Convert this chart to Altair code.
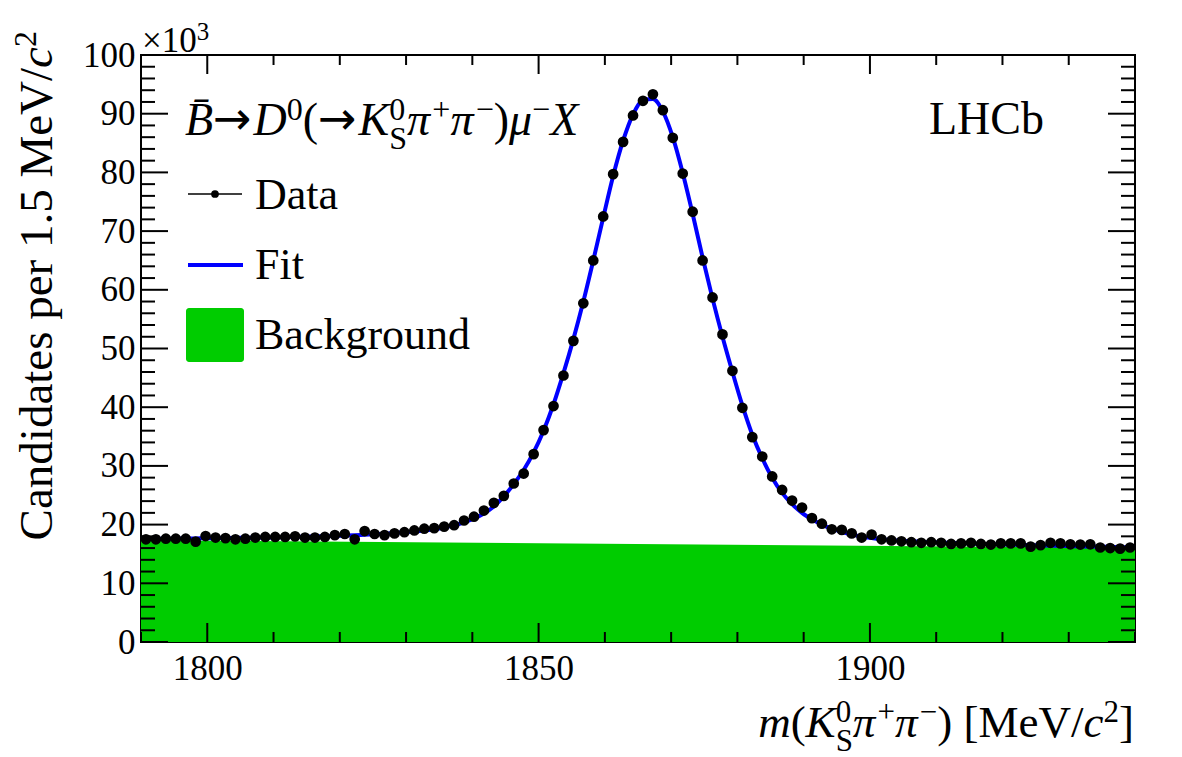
import altair as alt
import pandas as pd

# ---------------- data (values in units of 10^3 candidates) ----------------
bin_lo, bin_w, n_bins = 1790.0, 1.5, 100
mass = [bin_lo + bin_w * (i + 0.5) for i in range(n_bins)]

counts = [17.5, 17.5, 17.6, 17.6, 17.6, 17.1, 18.05, 17.8, 17.7, 17.5,
          17.6, 17.8, 17.9, 17.9, 17.9, 18.0, 17.8, 17.8, 17.9, 18.2,
          18.4, 17.5, 18.9, 18.4, 18.2, 18.5, 18.7, 19.0, 19.3, 19.4,
          19.65, 19.9, 20.7, 21.35, 22.4, 23.7, 24.9, 27.0, 28.7, 32.0,
          36.1, 40.2, 45.4, 51.3, 57.7, 65.0, 72.5, 79.7, 85.2, 89.7,
          92.2, 93.3, 90.6, 85.9, 79.8, 73.3, 65.0, 58.7, 52.4, 46.2,
          39.9, 34.9, 31.6, 28.2, 25.9, 24.1, 22.9, 21.1, 20.15, 19.2,
          19.1, 18.5, 17.8, 18.3, 17.5, 17.3, 17.15, 17.0, 16.9, 17.0,
          16.9, 16.7, 16.8, 16.9, 16.7, 16.6, 16.8, 16.8, 16.8, 16.25,
          16.5, 16.9, 16.8, 16.65, 16.6, 16.65, 16.1, 16.0, 15.9, 16.1]

fit_vals = [17.55, 17.57, 17.59, 17.61, 17.63, 17.65, 17.67, 17.69, 17.71, 17.73,
            17.75, 17.77, 17.8, 17.83, 17.86, 17.9, 17.94, 17.98, 18.03, 18.08,
            18.14, 18.2, 18.28, 18.36, 18.45, 18.56, 18.68, 18.83, 19.0, 19.2,
            19.5, 19.9, 20.4, 21.05, 21.9, 23.1, 24.8, 26.9, 29.3, 32.3,
            36.0, 40.5, 45.8, 51.6, 58.0, 65.0, 72.3, 79.4, 85.4, 89.9,
            92.3, 92.5, 90.4, 86.0, 79.9, 72.9, 65.5, 58.5, 52.0, 46.0,
            40.3, 35.3, 31.3, 28.0, 25.4, 23.5, 22.0, 20.9, 20.0, 19.3,
            18.75, 18.3, 17.95, 17.7, 17.5, 17.35, 17.25, 17.15, 17.07, 17.0,
            16.94, 16.88, 16.83, 16.78, 16.73, 16.68, 16.63, 16.59, 16.55, 16.51,
            16.47, 16.43, 16.39, 16.35, 16.31, 16.27, 16.23, 16.19, 16.15, 16.11]
fit_edge_x = [1790.0, 1940.0]
fit_edge_y = [17.54, 16.09]

bkg_x = [1790.0, 1940.0]
bkg_y = [17.35, 16.05]

x_labels = [1800, 1850, 1900]
y_labels = [0, 10, 20, 30, 40, 50, 60, 70, 80, 90, 100]
x_minor = [v for v in range(1790, 1941, 10) if v not in x_labels]
y_minor = [v for v in range(2, 100, 2) if v % 10 != 0]

# ---------------- layout ----------------
W, H = 994, 587
OX, OY = 141, 55
FONT = "Liberation Serif, Times New Roman, serif"
ARROW_FONT = "DejaVu Sans ExtraLight, DejaVu Sans"
GREEN = "#00cc00"
BLUE = "#0000ff"

xs = alt.Scale(domain=[1790, 1940], nice=False, zero=False)
ys = alt.Scale(domain=[0, 100], nice=False, zero=True)
XAX = alt.Axis(values=x_labels, format="d", ticks=False, domain=False, grid=False,
               labelFont=FONT, labelFontSize=35, labelColor="black", labelPadding=9,
               labelFlush=False, title=None)
YAX = alt.Axis(values=y_labels, ticks=False, domain=False, grid=False,
               labelFont=FONT, labelFontSize=35, labelColor="black", labelPadding=6,
               title=None)

df_data = pd.DataFrame({"m": mass, "n": counts})
df_fit = pd.DataFrame({"m": [fit_edge_x[0]] + mass + [fit_edge_x[1]],
                       "n": [fit_edge_y[0]] + fit_vals + [fit_edge_y[1]]})
df_bkg = pd.DataFrame({"m": bkg_x, "n": bkg_y})

bkg = alt.Chart(df_bkg).mark_area(color=GREEN, opacity=1).encode(
    x=alt.X("m:Q", scale=xs, axis=XAX), y=alt.Y("n:Q", scale=ys, axis=YAX))
fit = alt.Chart(df_fit).mark_line(color=BLUE, strokeWidth=4, interpolate="monotone").encode(
    x=alt.X("m:Q", scale=xs, axis=XAX), y=alt.Y("n:Q", scale=ys, axis=YAX))
pts = alt.Chart(df_data).mark_circle(color="black", opacity=1, size=115).encode(
    x=alt.X("m:Q", scale=xs, axis=XAX), y=alt.Y("n:Q", scale=ys, axis=YAX))


def yticks(vals, length, side):
    df = pd.DataFrame({"v": vals})
    x1, x2 = (0, length) if side == "left" else (W - length, W)
    return alt.Chart(df).mark_rule(color="black", strokeWidth=2).encode(
        y=alt.Y("v:Q", scale=ys, axis=YAX), x=alt.value(x1), x2=alt.value(x2))


def xticks(vals, length, side):
    df = pd.DataFrame({"v": vals})
    y1, y2 = (H - length, H) if side == "bottom" else (0, length)
    return alt.Chart(df).mark_rule(color="black", strokeWidth=2).encode(
        x=alt.X("v:Q", scale=xs, axis=XAX), y=alt.value(y1), y2=alt.value(y2))


ticks = [yticks(y_labels, 27, "left"), yticks(y_minor, 14, "left"),
         yticks(y_labels, 27, "right"), yticks(y_minor, 14, "right"),
         xticks(x_labels, 19, "bottom"), xticks(x_minor, 10, "bottom"),
         xticks(x_labels, 19, "top"), xticks(x_minor, 10, "top")]

one = pd.DataFrame({"a": [0]})


def txt(s, x, y, size, italic=False, align="left", angle=0, baseline="alphabetic", font=FONT):
    kw = dict(text=s, font=font, fontSize=size, align=align, baseline=baseline, color="black")
    if italic:
        kw["fontStyle"] = "italic"
    if angle:
        kw["angle"] = angle
    return alt.Chart(one).mark_text(**kw).encode(x=alt.value(x - OX), y=alt.value(y - OY))


REG = {" ": .25, "(": .333, ")": .333, "[": .333, "]": .333, "/": .278, "M": .889,
       "e": .444, "V": .722, "+": .564, "\u2212": .564, "S": .556,
       "0": .5, "1": .5, "2": .5, "3": .5, "\u00d7": .564}
IT = {"m": .722, "K": .667, "c": .444, "B": .611, "B\u0304": .611, "D": .722,
      "X": .611, "\u03c0": .55, "\u03bc": .5}


def wid(s, italic, fs):
    tab = IT if italic else REG
    if s in tab:
        return tab[s] * fs
    return sum(tab.get(c, .5) for c in s) * fs


def seq(items, x, base, fs, ss):
    layers = []
    for it in items:
        kind = it[0]
        if kind == "n":
            _, s, ital = it
            layers.append(txt(s, x, base, fs, ital))
            x += wid(s, ital, fs)
        elif kind == "gap":
            x += it[1] * fs
        elif kind == "arrow":
            layers.append(txt("\u2192", x, base - 1, fs, font=ARROW_FONT))
            x += 0.88 * fs
        elif kind == "sup":
            _, s, ital = it
            layers.append(txt(s, x, base - 0.33 * fs, ss, ital))
            x += wid(s, ital, ss)
        elif kind == "ss":
            _, sup, sub = it
            layers.append(txt(sup, x, base - 0.33 * fs, ss))
            layers.append(txt(sub, x, base + 0.30 * fs, ss))
            x += max(wid(sup, False, ss), wid(sub, False, ss))
    return layers, x


PI, MU = "\u03c0", "\u03bc"
PLUS, MINUS = "+", "\u2212"

# x-axis title, right aligned to the frame edge
XFS, XSS = 45, 31
xt_items = [("n", "m", True), ("n", "(", False), ("n", "K", True), ("ss", "0", "S"),
            ("n", PI, True), ("sup", PLUS, False), ("n", PI, True), ("sup", MINUS, False),
            ("n", ")", False), ("gap", 0.25), ("n", "[MeV/", False), ("n", "c", True),
            ("sup", "2", False), ("n", "]", False)]
_, xt_end = seq(xt_items, 0, 0, XFS, XSS)
xt_layers, _ = seq(xt_items, 1134 - xt_end, 737, XFS, XSS)

# header label
HFS, HSS = 46, 32
hd_items = [("n", "B\u0304", True), ("arrow",), ("n", "D", True), ("sup", "0", False),
            ("n", "(", False), ("arrow",), ("n", "K", True), ("ss", "0", "S"),
            ("n", PI, True), ("sup", PLUS, False), ("n", PI, True), ("sup", MINUS, False),
            ("n", ")", False), ("n", MU, True), ("sup", MINUS, False), ("n", "X", True)]
hd_layers, _ = seq(hd_items, 185, 135, HFS, HSS)

# y-axis title (rotated), anchored at its top end
YFS, YSS = 47, 32
yt_base, yt_top = 52, 31
w2 = wid("2", False, YSS)
wc = wid("c", True, YFS)
yt_layers = [txt("2", yt_base - 16, yt_top, YSS, align="right", angle=270),
             txt("c", yt_base, yt_top + w2, YFS, italic=True, align="right", angle=270),
             txt("Candidates per 1.5 MeV/", yt_base, yt_top + w2 + wc, YFS, align="right", angle=270)]

# exponent label
exp_layers = [txt("\u00d710", 142, 52, 35), txt("3", 142 + wid("\u00d710", False, 35), 40, 25)]

# LHCb label
lhcb = [txt("LHCb", 1044, 134, 46, align="right")]

# legend
leg_line_data = alt.Chart(one).mark_rule(color="black", strokeWidth=1.5).encode(
    x=alt.value(188 - OX), x2=alt.value(242 - OX), y=alt.value(194 - OY))
leg_dot = alt.Chart(one).mark_point(filled=True, color="black", opacity=1, size=60, shape="circle").encode(
    x=alt.value(215 - OX), y=alt.value(194 - OY))
leg_fit = alt.Chart(one).mark_rule(color=BLUE, strokeWidth=4).encode(
    x=alt.value(188 - OX), x2=alt.value(243 - OX), y=alt.value(265 - OY))
leg_bkg = alt.Chart(one).mark_rect(color=GREEN, opacity=1, cornerRadius=3).encode(
    x=alt.value(186 - OX), x2=alt.value(244 - OX), y=alt.value(308 - OY), y2=alt.value(362 - OY))
leg_txt = [txt("Data", 255, 209, 44), txt("Fit", 255, 279, 44), txt("Background", 255, 349, 44)]

layers = [bkg, fit, pts] + ticks + xt_layers + hd_layers + yt_layers + exp_layers + lhcb + \
         [leg_line_data, leg_dot, leg_fit, leg_bkg] + leg_txt

chart = alt.layer(*layers).properties(
    width=W, height=H,
    autosize=alt.AutoSizeParams(type="none"),
    padding={"left": OX, "top": OY, "right": 1182 - OX - W, "bottom": 757 - OY - H},
    background="white",
).configure_view(stroke="black", strokeWidth=2)

chart.save("out.html", embed_options={"renderer": "svg", "actions": False})
